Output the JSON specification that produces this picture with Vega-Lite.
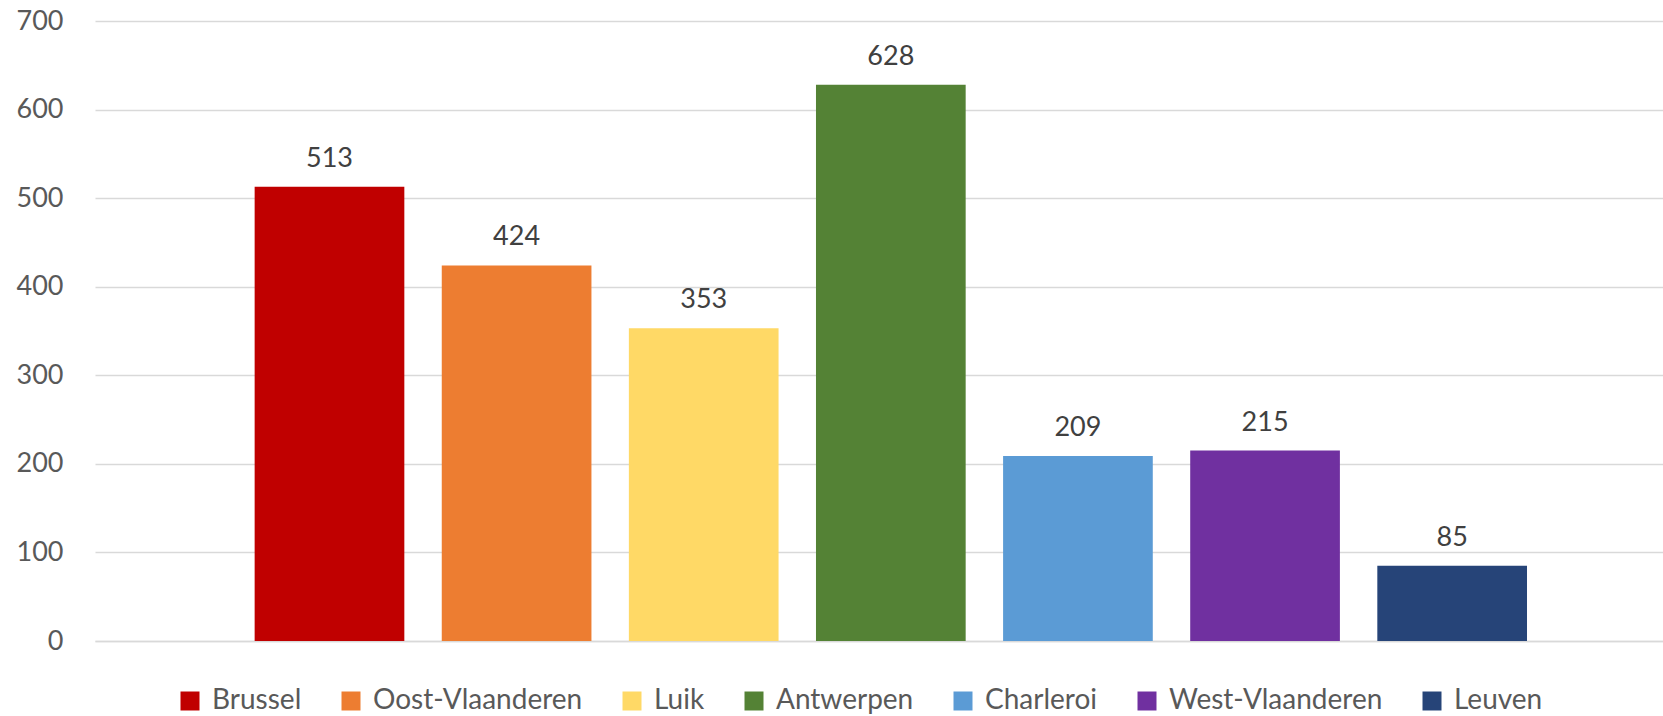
{
  "$schema": "https://vega.github.io/schema/vega-lite/v6.json",
  "autosize": {"type": "none"},
  "width": 1568,
  "height": 620,
  "padding": {"left": 95, "top": 21, "right": 0, "bottom": 75},
  "background": "white",
  "config": {"view": {"stroke": null}},
  "data": {
    "values": [
      {"regio": "Brussel", "aantal": 513},
      {"regio": "Oost-Vlaanderen", "aantal": 424},
      {"regio": "Luik", "aantal": 353},
      {"regio": "Antwerpen", "aantal": 628},
      {"regio": "Charleroi", "aantal": 209},
      {"regio": "West-Vlaanderen", "aantal": 215},
      {"regio": "Leuven", "aantal": 85}
    ]
  },
  "encoding": {
    "x": {
      "field": "regio",
      "type": "nominal",
      "sort": null,
      "scale": {"paddingInner": 0.2, "paddingOuter": 0.79, "align": 0.54},
      "axis": {"labels": false, "ticks": false, "title": null, "domain": true, "domainColor": "#d9d9d9", "domainWidth": 1.5, "grid": false}
    },
    "y": {
      "field": "aantal",
      "type": "quantitative",
      "scale": {"domain": [0, 700], "nice": false},
      "axis": {
        "values": [0, 100, 200, 300, 400, 500, 600, 700],
        "title": null,
        "domain": false,
        "ticks": false,
        "labelPadding": 32,
        "labelFont": "Lato",
        "labelFontSize": 27,
        "labelColor": "#595959",
        "gridColor": "#d9d9d9",
        "gridWidth": 1.5
      }
    }
  },
  "layer": [
    {
      "mark": {"type": "bar"},
      "encoding": {
        "color": {
          "field": "regio",
          "type": "nominal",
          "sort": null,
          "scale": {
            "domain": ["Brussel", "Oost-Vlaanderen", "Luik", "Antwerpen", "Charleroi", "West-Vlaanderen", "Leuven"],
            "range": ["#C00000", "#ED7D31", "#FFD966", "#548235", "#5B9BD5", "#7030A0", "#264478"]
          },
          "legend": {
            "title": null,
            "orient": "none",
            "direction": "horizontal",
            "legendX": 81,
            "legendY": 666,
            "symbolType": "square",
            "symbolSize": 361,
            "symbolStrokeWidth": 0,
            "labelFont": "Lato",
            "labelFontSize": 28,
            "labelColor": "#595959",
            "labelOffset": 8,
            "columnPadding": 35,
            "labelLimit": 400
          }
        }
      }
    },
    {
      "mark": {"type": "text", "baseline": "alphabetic", "dy": -20, "font": "Lato", "fontSize": 27, "color": "#404040"},
      "encoding": {
        "text": {"field": "aantal", "type": "quantitative"}
      }
    }
  ]
}
